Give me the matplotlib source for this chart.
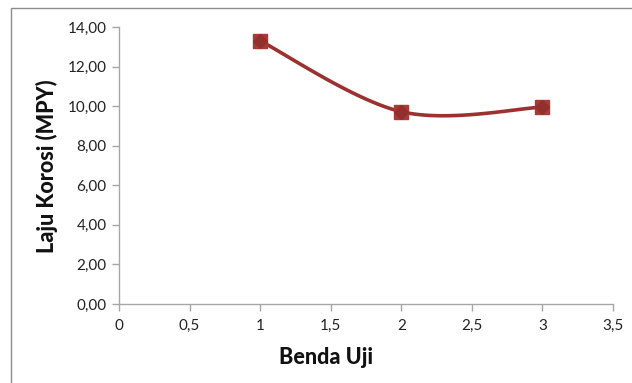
import numpy as np
import matplotlib
matplotlib.use("Agg")
import matplotlib.pyplot as plt
from matplotlib.patches import Rectangle
from matplotlib.ticker import FuncFormatter, MultipleLocator

plt.rcParams['font.family'] = ['Lato', 'DejaVu Sans']

benda_uji = [1, 2, 3]
laju_korosi = [13.30, 9.72, 9.95]

line_color = "#9B3230"
marker_color = "#A83A38"


def smooth_curve(xs, ys, ax, n=60):
    """Cubic Bezier smoothing through the points (tangent = neighbour difference / 6),
    computed in display space so the curve shape follows the drawn axes."""
    pts = ax.transData.transform(np.column_stack([xs, ys]))
    p = np.vstack([pts[0], pts, pts[-1]])
    out = []
    for i in range(1, len(p) - 2):
        p0, p1, p2, p3 = p[i - 1], p[i], p[i + 1], p[i + 2]
        c1 = p1 + (p2 - p0) / 6.0
        c2 = p2 - (p3 - p1) / 6.0
        t = np.linspace(0, 1, n)[:, None]
        seg = ((1 - t) ** 3) * p1 + 3 * ((1 - t) ** 2) * t * c1 + 3 * (1 - t) * t ** 2 * c2 + t ** 3 * p2
        out.append(seg if i == 1 else seg[1:])
    curve = np.vstack(out)
    return ax.transData.inverted().transform(curve)


fig = plt.figure(figsize=(6.32, 3.83), dpi=100)
ax = fig.add_axes([119 / 632, 1 - 304 / 383, 494 / 632, 277 / 383])

ax.set_xlim(0, 3.5)
ax.set_ylim(0, 14)
ax.xaxis.set_major_locator(MultipleLocator(0.5))
ax.yaxis.set_major_locator(MultipleLocator(2))
ax.xaxis.set_major_formatter(FuncFormatter(lambda v, p: f"{v:g}".replace(".", ",")))
ax.yaxis.set_major_formatter(FuncFormatter(lambda v, p: f"{v:.2f}".replace(".", ",")))

for s in ["top", "right"]:
    ax.spines[s].set_visible(False)
for s in ["left", "bottom"]:
    ax.spines[s].set_color("#A6A6A6")
    ax.spines[s].set_linewidth(1.0)
ax.tick_params(axis="both", direction="out", length=5, width=1.0, color="#A6A6A6",
               labelsize=11, labelcolor="#222222")
ax.tick_params(axis="x", pad=6)
ax.tick_params(axis="y", pad=4)

fig.canvas.draw()
curve = smooth_curve(benda_uji, laju_korosi, ax)
ax.plot(curve[:, 0], curve[:, 1], color=line_color, lw=2.6, solid_capstyle="round", zorder=3)
ax.plot(benda_uji, laju_korosi, linestyle="none", marker="s", markersize=9.5,
        color=marker_color, markeredgecolor=marker_color, zorder=4, clip_on=False)
ax.plot(benda_uji, laju_korosi, linestyle="none", marker="D", markersize=7,
        color="#93302E", markeredgecolor="#93302E", zorder=5, clip_on=False)

# axis titles
fig.text(326 / 632, 1 - 357 / 383, "Benda Uji", fontsize=15.5, fontweight="black",
         ha="center", va="center", color="#111111")
fig.text(47 / 632, 1 - 166 / 383, "Laju Korosi (MPY)", fontsize=15.5, fontweight="black",
         ha="center", va="center", rotation=90, color="#111111")

# chart area frame
fig.patches.append(Rectangle((11 / 632, -0.1), 1.2, 1 - 8 / 383 + 0.1,
                             transform=fig.transFigure, fill=False,
                             edgecolor="#8C8C8C", lw=1.0))

fig.savefig("out.png", dpi=100)
